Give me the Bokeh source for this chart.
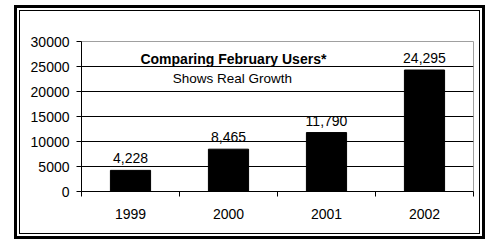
from bokeh.plotting import figure
from bokeh.models import (ColumnDataSource, FixedTicker, LabelSet, Label, Range1d)
from bokeh.core.properties import value
from bokeh.embed import file_html
from bokeh.resources import INLINE

# ---- data ----
years = ["1999", "2000", "2001", "2002"]
users = [4228, 8465, 11790, 24295]
value_labels = ["4,228", "8,465", "11,790", "24,295"]
y_ticks = [0, 5000, 10000, 15000, 20000, 25000, 30000]
title_text = "Comparing February Users*"
subtitle_text = "Shows Real Growth"

xpos = [i + 0.5 for i in range(len(years))]
src = ColumnDataSource(dict(x=xpos, top=users, lab=value_labels))

FONT = "Liberation Sans"

p = figure(width=471, height=234, output_backend="svg", toolbar_location=None,
           x_range=Range1d(0, len(years)), y_range=Range1d(0, 30000))
p.min_border_left = 67
p.min_border_right = 12
p.min_border_top = 36
p.min_border_bottom = 48
p.border_fill_color = None
p.background_fill_color = "white"
p.outline_line_color = "#a0a0a0"
p.outline_line_width = 1
p.styles = {
    "position": "relative",
    "left": "14px",
    "top": "5px",
    "box-shadow": "inset 0 0 0 3px #000, inset 0 0 0 5px #fff, inset 0 0 0 6px #000",
}

p.vbar(x="x", top="top", width=0.41, source=src, color="black")

# axes
p.xaxis.ticker = FixedTicker(ticks=xpos, minor_ticks=list(range(len(years) + 1)))
p.xaxis.major_label_overrides = {x: y for x, y in zip(xpos, years)}
p.xaxis.major_tick_out = 0
p.xaxis.major_tick_in = 0
p.xaxis.minor_tick_out = 5
p.xaxis.minor_tick_in = 0
p.xaxis.minor_tick_line_color = "black"
p.xaxis.axis_line_color = "black"
p.xaxis.major_label_standoff = 12
p.xaxis.major_label_text_font = FONT
p.xaxis.major_label_text_font_size = "14px"
p.xaxis.major_label_text_color = "black"

p.yaxis.ticker = FixedTicker(ticks=y_ticks)
p.yaxis.major_tick_out = 5
p.yaxis.major_tick_in = 0
p.yaxis.minor_tick_line_color = None
p.yaxis.axis_line_color = "black"
p.yaxis.major_tick_line_color = "black"
p.yaxis.major_label_standoff = 7
p.yaxis.major_label_text_font = FONT
p.yaxis.major_label_text_font_size = "14px"
p.yaxis.major_label_text_color = "black"

p.xgrid.grid_line_color = None
p.ygrid.ticker = FixedTicker(ticks=y_ticks[1:-1])
p.ygrid.grid_line_color = "black"
p.ygrid.grid_line_width = 1

labels = LabelSet(x="x", y="top", text="lab", source=src, text_align="center",
                  text_baseline="alphabetic", y_offset=7, text_font=value(FONT),
                  text_font_size=value("14px"), text_color="black")
p.add_layout(labels)

p.add_layout(Label(x=1.55, y=26500, text=title_text, text_align="center",
                   text_baseline="alphabetic", text_font=FONT, text_font_size="14px",
                   text_font_style="bold", text_color="black"))
p.add_layout(Label(x=1.54, y=22700, text=subtitle_text, text_align="center",
                   text_baseline="alphabetic", text_font=FONT, text_font_size="13.5px",
                   text_color="black"))

open("out.html", "w").write(file_html(p, INLINE))
